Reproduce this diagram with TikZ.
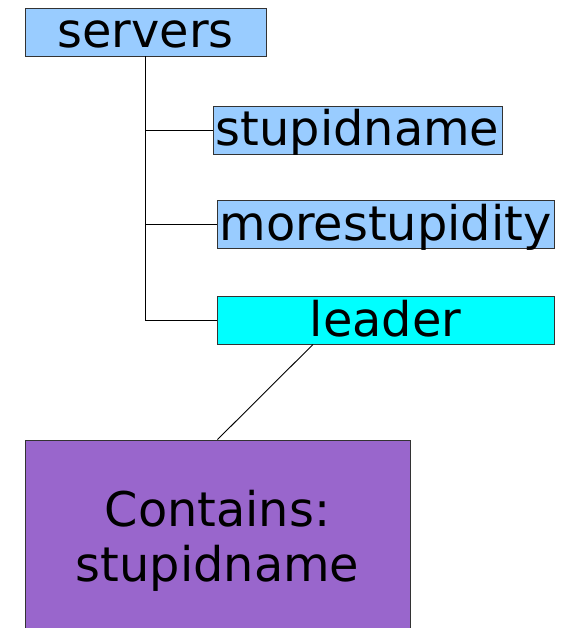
\documentclass[tikz,border=0pt]{standalone}
\usepackage{fontspec}
\setmainfont{DejaVu Sans}
\usetikzlibrary{calc}
\definecolor{srvblue}{HTML}{99CCFF}
\definecolor{leadcyan}{HTML}{00FFFF}
\definecolor{infopurple}{HTML}{9966CC}
\definecolor{edgegray}{HTML}{333333}
\tikzset{
  treebox/.style={draw=edgegray, line width=0.9pt, inner sep=0pt,
    minimum height=48pt, text height=36pt, text depth=4pt,
    font=\fontsize{47.8}{55}\selectfont},
  link/.style={draw=black, line width=0.9pt}
}
\begin{document}
\begin{tikzpicture}[x=1pt, y=-1pt]
\useasboundingbox (0,0) rectangle (568,628);
\clip (0,0) rectangle (568,628);

% top-level folder and its children
\node[treebox, fill=srvblue, minimum width=241pt] (servers) at (145.5,32) {servers};
\node[treebox, fill=srvblue, minimum width=289pt] (stupid) at (357.5,130) {stupidname};
\node[treebox, fill=srvblue, minimum width=337pt] (more) at (385.5,224) {morestupidity};
\node[treebox, fill=leadcyan, minimum width=337pt] (leader) at (385.5,320) {leader};

% content box of the leader
\node[draw=edgegray, line width=0.9pt, fill=infopurple, inner sep=0pt,
      minimum width=385pt, minimum height=201pt, align=center,
      font=\fontsize{47.8}{55}\selectfont] (info) at (217.5,540.5)
      {Contains:\\stupidname};

% tree connectors
\draw[link] (servers.south) |- (leader.west);
\draw[link] (servers.south |- stupid.west) -- (stupid.west);
\draw[link] (servers.south |- more.west) -- (more.west);
\draw[link] ([xshift=-72.5pt]leader.south) -- (info.north);
\end{tikzpicture}
\end{document}
